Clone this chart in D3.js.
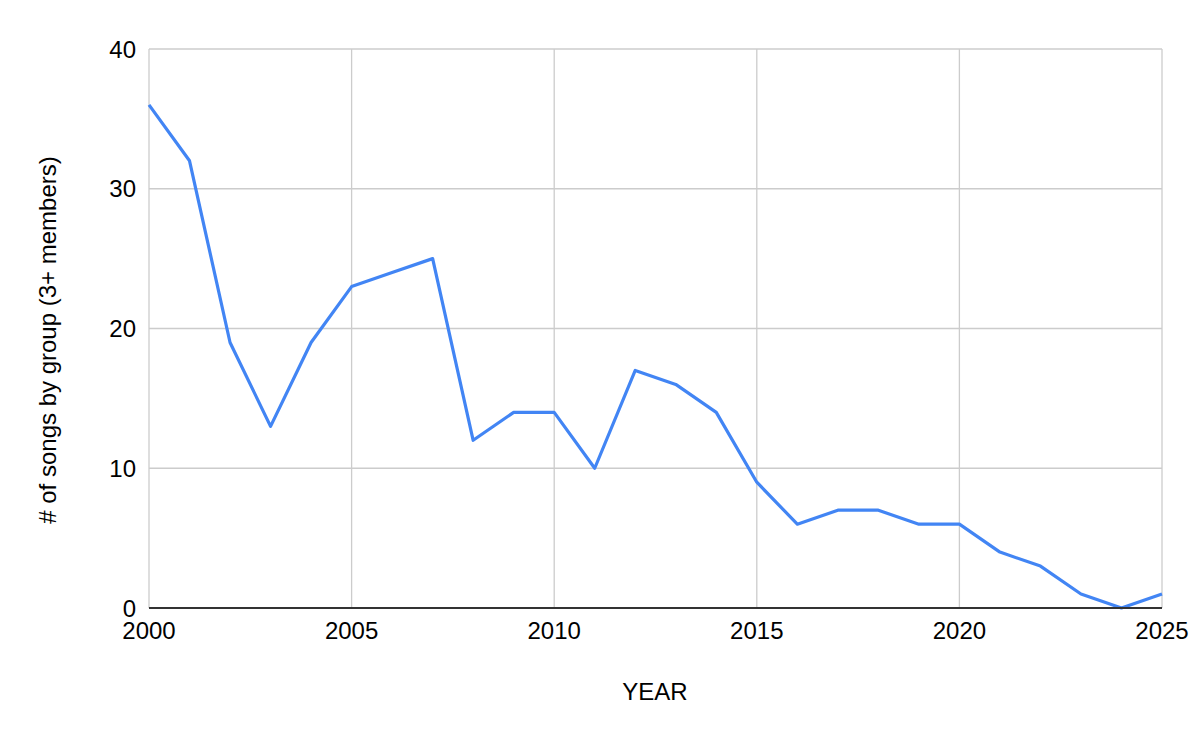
<!DOCTYPE html>
<html><head><meta charset="utf-8">
<script src="https://cdn.jsdelivr.net/npm/d3@7"></script>
<style>body{margin:0;background:#fff}</style>
</head><body>
<svg id="c" width="1200" height="742"></svg>
<script>
const years = [2000,2001,2002,2003,2004,2005,2006,2007,2008,2009,2010,2011,2012,2013,2014,2015,2016,2017,2018,2019,2020,2021,2022,2023,2024,2025];
const songs = [36,32,19,13,19,23,24,25,12,14,14,10,17,16,14,9,6,7,7,6,6,4,3,1,0,1];
const xTicks = [2000,2005,2010,2015,2020,2025];
const yTicks = [0,10,20,30,40];

const svg = d3.select("#c");
const L=149,R=1162,T=49,B=608;
const x = d3.scaleLinear().domain([2000,2025]).range([L,R]);
const y = d3.scaleLinear().domain([0,40]).range([B,T]);
const font = "'Liberation Sans', Arial, sans-serif";

const g = svg.append("g");
g.selectAll(".vg").data(xTicks).join("line")
  .attr("x1",d=>x(d)).attr("x2",d=>x(d)).attr("y1",T).attr("y2",B)
  .attr("stroke","#cccccc").attr("stroke-width",1.3);
g.selectAll(".hg").data(yTicks.filter(d=>d>0)).join("line")
  .attr("x1",L).attr("x2",R).attr("y1",d=>y(d)).attr("y2",d=>y(d))
  .attr("stroke","#cccccc").attr("stroke-width",1.3);

g.selectAll(".yt").data(yTicks).join("text")
  .attr("x",L-13).attr("y",d=>y(d)+8.5).attr("text-anchor","end")
  .attr("font-family",font).attr("font-size",24).attr("fill","#000").text(d=>d);
g.selectAll(".xt").data(xTicks).join("text")
  .attr("x",d=>x(d)).attr("y",B+31).attr("text-anchor","middle")
  .attr("font-family",font).attr("font-size",24).attr("fill","#000").text(d=>d);

const line = d3.line().x((d,i)=>x(years[i])).y(d=>y(d));
g.append("path").datum(songs).attr("d",line).attr("fill","none")
  .attr("stroke","#4285f4").attr("stroke-width",3.2).attr("stroke-linejoin","round");

g.append("line").attr("x1",L).attr("x2",R).attr("y1",B).attr("y2",B)
  .attr("stroke","#333333").attr("stroke-width",2);

g.append("text").attr("x",655).attr("y",700).attr("text-anchor","middle")
  .attr("font-family",font).attr("font-size",24).text("YEAR");
g.append("text").attr("transform",`translate(56,340) rotate(-90)`)
  .attr("text-anchor","middle").attr("font-family",font).attr("font-size",24)
  .text("# of songs by group (3+ members)");
</script>
</body></html>
